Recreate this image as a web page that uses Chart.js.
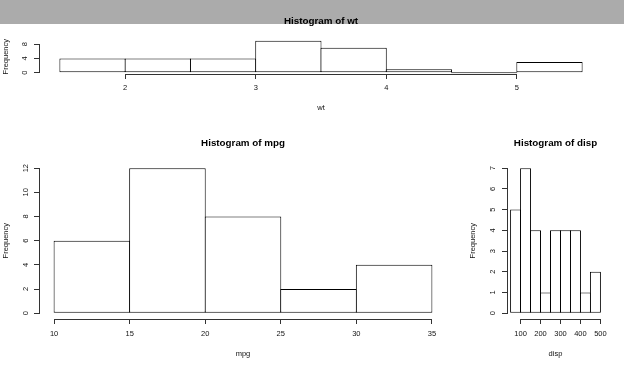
<!DOCTYPE html>
<html>
<head>
<meta charset="utf-8">
<script src="https://cdn.jsdelivr.net/npm/chart.js@4.4.1/dist/chart.umd.min.js"></script>
<style>
  body { margin: 0; width: 624px; height: 368px; position: relative; background: #fff; overflow: hidden; }
  #band { position: absolute; left: 0; top: 0; width: 624px; height: 24px; background: #ababab; }
  canvas { position: absolute; }
</style>
</head>
<body>
<div id="band"></div>
<canvas id="wtChart" style="left:0;top:0" width="624" height="125"></canvas>
<canvas id="mpgChart" style="left:0;top:130px" width="460" height="238"></canvas>
<canvas id="dispChart" style="left:460px;top:130px" width="164" height="238"></canvas>
<script>
// mtcars histograms
var wtBreaks = [1.5, 2, 2.5, 3, 3.5, 4, 4.5, 5, 5.5];
var wtCounts = [4, 4, 4, 9, 7, 1, 0, 3];
var wtTicksX = [2, 3, 4, 5];
var wtTicksY = [0, 4, 8];

var mpgBreaks = [10, 15, 20, 25, 30, 35];
var mpgCounts = [6, 12, 8, 2, 4];
var mpgTicksX = [10, 15, 20, 25, 30, 35];
var mpgTicksY = [0, 2, 4, 6, 8, 10, 12];

var dispBreaks = [50, 100, 150, 200, 250, 300, 350, 400, 450, 500];
var dispCounts = [5, 7, 4, 1, 4, 4, 4, 1, 2];
var dispTicksX = [100, 200, 300, 400, 500];
var dispTicksY = [0, 1, 2, 3, 4, 5, 6, 7];

var FONT = "'Liberation Sans', Arial, sans-serif";
var INK = '#111';
var LINE = '#000';

// R draws the axis line only from first to last tick
var rAxisLines = {
  id: 'rAxisLines',
  afterDraw: function(chart) {
    var ctx = chart.ctx, a = chart.chartArea;
    var xs = chart.scales.x, ys = chart.scales.y;
    var al = function(p) { return Math.round(p - 0.5) + 0.5; };
    ctx.save();
    ctx.strokeStyle = '#333';
    ctx.lineWidth = 1;
    ctx.beginPath();
    var by = al(a.bottom);
    ctx.moveTo(al(xs.getPixelForValue(xs.ticks[0].value)) - 0.5, by);
    ctx.lineTo(al(xs.getPixelForValue(xs.ticks[xs.ticks.length - 1].value)) + 0.5, by);
    var lx = al(a.left);
    ctx.moveTo(lx, al(ys.getPixelForValue(ys.ticks[0].value)) + 0.5);
    ctx.lineTo(lx, al(ys.getPixelForValue(ys.ticks[ys.ticks.length - 1].value)) - 0.5);
    ctx.stroke();
    ctx.restore();
  }
};

function histChart(id, titleText, xLabel, breaks, counts, xTicks, yTicks, lay) {
  var ymax = Math.max.apply(null, counts);
  var xlo = breaks[0], xhi = breaks[breaks.length - 1];
  var ext = (xhi - xlo) * 0.04;
  var bars = counts.map(function(c, i) {
    return { x: (breaks[i] + breaks[i + 1]) / 2, y: c };
  });
  return new Chart(document.getElementById(id), {
    type: 'bar',
    data: {
      datasets: [{
        data: bars,
        backgroundColor: '#fff',
        borderColor: LINE,
        borderWidth: 1,
        borderSkipped: false,
        barPercentage: lay.barPct,
        categoryPercentage: 1,
        minBarLength: 1
      }]
    },
    options: {
      responsive: false,
      animation: false,
      events: [],
      layout: { padding: { left: 0, top: 0, bottom: 0, right: lay.padRight } },
      plugins: {
        legend: { display: false },
        tooltip: { enabled: false },
        title: {
          display: true,
          text: titleText,
          fullSize: false,
          color: '#000',
          font: { family: FONT, size: 9.8, weight: 'bold', lineHeight: 1.2 },
          padding: { top: lay.titleTop, bottom: lay.titleBottom }
        }
      },
      scales: {
        x: {
          type: 'linear',
          min: xlo - ext,
          max: xhi + ext,
          offset: false,
          grid: { display: true, offset: false, drawOnChartArea: false, drawTicks: true, tickLength: 5, color: '#333' },
          border: { display: false },
          afterBuildTicks: function(s) { s.ticks = xTicks.map(function(v) { return { value: v }; }); },
          afterFit: function(s) { s.height = lay.xAxisHeight; },
          ticks: {
            color: INK, autoSkip: false, maxRotation: 0, padding: lay.xTickPad,
            font: { family: FONT, size: 7.5, lineHeight: 1.2 },
            callback: function(v) { return String(v); }
          },
          title: {
            display: true, text: xLabel, color: INK,
            font: { family: FONT, size: 7.5, lineHeight: 1.2 },
            padding: { top: 0, bottom: lay.xTitlePad }
          }
        },
        y: {
          type: 'linear',
          min: -0.04 * ymax,
          max: 1.04 * ymax,
          grid: { display: true, drawOnChartArea: false, drawTicks: true, tickLength: 5, color: '#333' },
          border: { display: false },
          afterBuildTicks: function(s) { s.ticks = yTicks.map(function(v) { return { value: v }; }); },
          afterFit: function(s) { s.width = lay.yAxisWidth; },
          ticks: {
            color: INK, autoSkip: false, minRotation: 90, maxRotation: 90, crossAlign: 'center',
            padding: lay.yTickPad,
            font: { family: FONT, size: 7.5, lineHeight: 1.2 },
            callback: function(v) { return String(v); }
          },
          title: {
            display: true, text: 'Frequency', color: INK,
            font: { family: FONT, size: 7.5, lineHeight: 1.2 },
            padding: { top: lay.yTitlePad, bottom: 0 }
          }
        }
      }
    },
    plugins: [rAxisLines]
  });
}

histChart('wtChart', 'Histogram of wt', 'wt', wtBreaks, wtCounts, wtTicksX, wtTicksY, {
  padRight: 21, yAxisWidth: 39, xAxisHeight: 51, titleTop: 15.3, titleBottom: 12.3,
  xTickPad: 4.2, xTitlePad: 12.5, yTickPad: 7.4, yTitlePad: 1.5, barPct: 1.0153
});
histChart('mpgChart', 'Histogram of mpg', 'mpg', mpgBreaks, mpgCounts, mpgTicksX, mpgTicksY, {
  padRight: 13, yAxisWidth: 39, xAxisHeight: 49, titleTop: 7.3, titleBottom: 13.3,
  xTickPad: 5, xTitlePad: 10, yTickPad: 4.3, yTitlePad: 1.5, barPct: 1.0132
});
histChart('dispChart', 'Histogram of disp', 'disp', dispBreaks, dispCounts, dispTicksX, dispTicksY, {
  padRight: 20, yAxisWidth: 47, xAxisHeight: 49, titleTop: 7.3, titleBottom: 13.3,
  xTickPad: 5, xTitlePad: 10, yTickPad: 7.4, yTitlePad: 8.8, barPct: 1.1
});
</script>
</body>
</html>
